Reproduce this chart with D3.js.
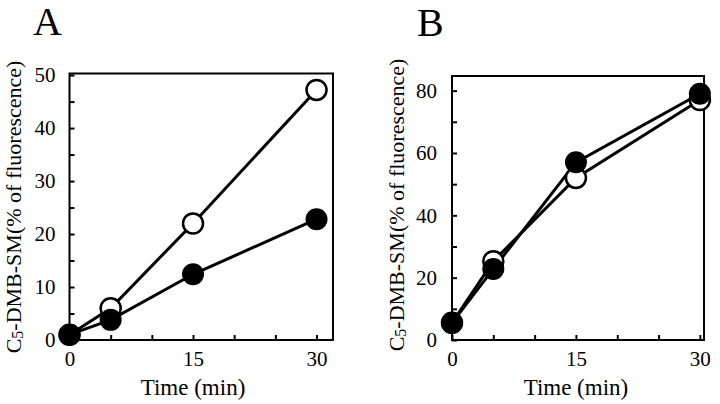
<!DOCTYPE html>
<html>
<head>
<meta charset="utf-8">
<script src="https://cdn.jsdelivr.net/npm/d3@7/dist/d3.min.js"></script>
<style>
  html, body { margin: 0; padding: 0; background: #fff; }
  svg { display: block; }
</style>
</head>
<body>
<svg id="chart" width="720" height="404"></svg>
<script>
// ---- data ----
const timeMin = [0, 5, 15, 30];
const panelA_open   = [1.0, 6.0, 22.0, 47.2];
const panelA_filled = [1.0, 3.8, 12.4, 22.8];
const panelB_open   = [5.5, 25.3, 52.0, 77.0];
const panelB_filled = [5.5, 22.8, 57.0, 79.0];
const xTickLabels = [0, 15, 30];
const xTicksAll = [0, 5, 10, 15, 20, 25, 30];
const yTicksA = [0, 10, 20, 30, 40, 50];
const yMinorA = [5, 15, 25, 35, 45];
const yTicksB = [0, 20, 40, 60, 80];
const yMinorB = [10, 30, 50, 70];
const panelLetters = ["A", "B"];
const xLabel = "Time (min)";

const FONT = "'Liberation Serif', 'Times New Roman', Times, serif";
const svg = d3.select("#chart").style("font-family", FONT);

function drawPanel(cfg) {
  const x = d3.scaleLinear().domain(cfg.xDomain).range(cfg.xRange);
  const y = d3.scaleLinear().domain(cfg.yDomain).range(cfg.yRange);
  const g = svg.append("g").style("font-family", FONT);

  // frame
  g.append("rect")
    .attr("x", cfg.xRange[0]).attr("y", cfg.yRange[1])
    .attr("width", cfg.xRange[1] - cfg.xRange[0])
    .attr("height", cfg.yRange[0] - cfg.yRange[1])
    .attr("fill", "none").attr("stroke", "#000").attr("stroke-width", 2);

  // y axis (inward ticks)
  const yAll = cfg.yMajor.concat(cfg.yMinor).sort((a, b) => a - b);
  const yAxis = d3.axisLeft(y).tickValues(yAll).tickSize(-5).tickPadding(cfg.yPad)
    .tickFormat(d => cfg.yMajor.includes(d) ? d : "");
  const ya = g.append("g").attr("transform", `translate(${cfg.xRange[0]},0)`).call(yAxis);
  ya.attr("font-family", null).attr("font-size", null);
  ya.select(".domain").remove();
  ya.selectAll(".tick line").attr("stroke", "#000").attr("stroke-width", 2);
  ya.selectAll(".tick text").style("font-size", "21px").style("font-family", FONT).attr("fill", "#000");

  // x axis (inward ticks)
  const xAxis = d3.axisBottom(x).tickValues(xTicksAll).tickSize(-5).tickPadding(11)
    .tickFormat(d => xTickLabels.includes(d) ? d : "");
  const xa = g.append("g").attr("transform", `translate(0,${cfg.yRange[0]})`).call(xAxis);
  xa.attr("font-family", null).attr("font-size", null);
  xa.select(".domain").remove();
  xa.selectAll(".tick line").attr("stroke", "#000").attr("stroke-width", 2);
  xa.selectAll(".tick text").style("font-size", "21px").style("font-family", FONT).attr("fill", "#000");

  // axis titles
  g.append("text")
    .attr("x", x(15)).attr("y", 395)
    .attr("text-anchor", "middle").style("font-size", "23px").style("font-family", FONT)
    .text(xLabel);

  const yt = g.append("text")
    .attr("transform", `translate(${cfg.yLabelX},${cfg.yLabelY}) rotate(-90)`)
    .attr("text-anchor", "middle").style("font-size", "22px").style("font-family", FONT);
  yt.append("tspan").text("C");
  yt.append("tspan").attr("dy", 2).style("font-size", "16px").text("5");
  yt.append("tspan").attr("dy", -2).text("-DMB-SM(% of fluorescence)");

  // panel letter
  g.append("text").attr("x", cfg.letterX).attr("y", cfg.letterY)
    .style("font-size", "40px").style("font-family", FONT).text(cfg.letter);

  const line = d3.line().x((d, i) => x(timeMin[i])).y(d => y(d));

  [cfg.open, cfg.filled].forEach(s => {
    g.append("path").datum(s).attr("d", line)
      .attr("fill", "none").attr("stroke", "#000").attr("stroke-width", 3);
  });

  g.selectAll("circle.open").data(cfg.open).join("circle")
    .attr("class", "open")
    .attr("cx", (d, i) => x(timeMin[i])).attr("cy", d => y(d)).attr("r", 10)
    .attr("fill", "#fff").attr("stroke", "#000").attr("stroke-width", 2.5);
  g.selectAll("circle.filled").data(cfg.filled).join("circle")
    .attr("class", "filled")
    .attr("cx", (d, i) => x(timeMin[i])).attr("cy", d => y(d)).attr("r", 11)
    .attr("fill", "#000");
}

drawPanel({
  xDomain: [0, 32], xRange: [69.5, 333],
  yDomain: [0, 50.3], yRange: [340, 73.5],
  yMajor: yTicksA, yMinor: yMinorA, yPad: 14,
  yLabelX: 21, yLabelY: 207,
  letter: panelLetters[0], letterX: 33, letterY: 35,
  open: panelA_open, filled: panelA_filled
});

drawPanel({
  xDomain: [0, 30.5], xRange: [452, 704],
  yDomain: [0, 84.7], yRange: [340, 76],
  yMajor: yTicksB, yMinor: yMinorB, yPad: 15,
  yLabelX: 404, yLabelY: 205,
  letter: panelLetters[1], letterX: 417, letterY: 36,
  open: panelB_open, filled: panelB_filled
});
</script>
</body>
</html>
